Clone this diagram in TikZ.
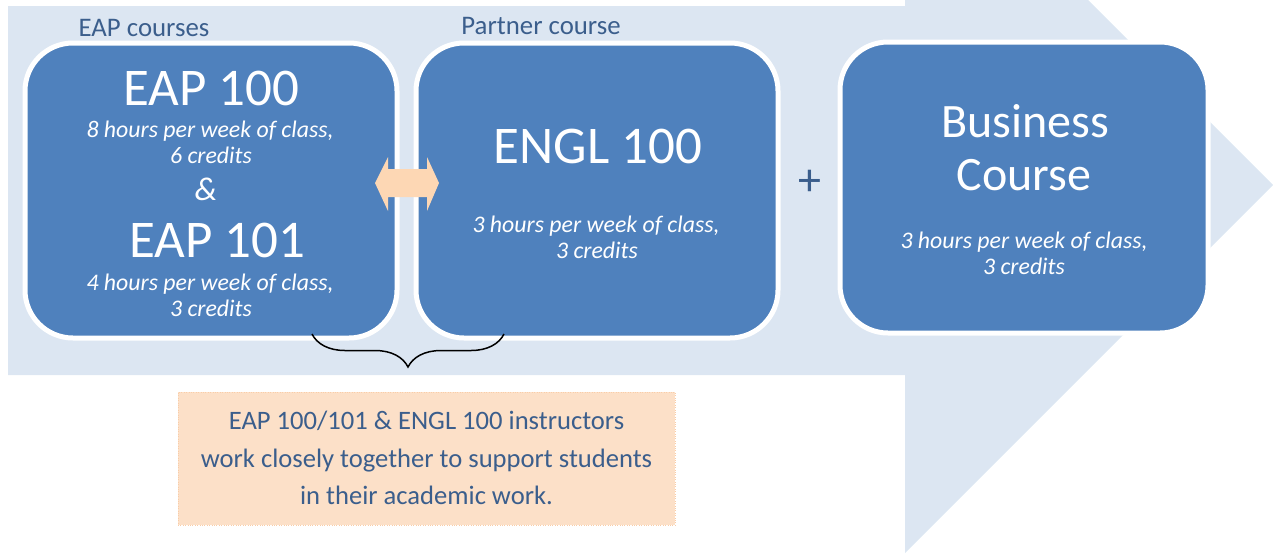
\documentclass[tikz,border=0pt]{standalone}
\usepackage{fontspec}
\setmainfont{Carlito}
\usetikzlibrary{decorations.pathreplacing}
\definecolor{bgblue}{RGB}{220,230,242}
\definecolor{boxblue}{RGB}{79,129,189}
\definecolor{labelblue}{RGB}{59,94,140}
\definecolor{peach}{RGB}{252,224,200}
\definecolor{peachline}{RGB}{249,205,168}
\definecolor{arrowpeach}{RGB}{253,215,180}
\tikzset{
  course/.style={draw=white, line width=5pt, fill=boxblue, rounded corners=48pt, inner sep=0pt},
  cname/.style={text=white, font=\fontsize{53}{53}\selectfont, inner sep=0pt, anchor=base},
  bname/.style={text=white, font=\fontsize{48}{48}\selectfont, inner sep=0pt, anchor=base},
  info/.style={text=white, font=\fontsize{23.8}{26}\selectfont\itshape, inner sep=0pt, anchor=base},
  grouplabel/.style={text=labelblue, font=\fontsize{26.8}{26.8}\selectfont, inner sep=0pt, anchor=base},
}
\begin{document}
\begin{tikzpicture}[x=1pt,y=-1pt]
\useasboundingbox (0,0) rectangle (1273,555);
\clip (0,0) rectangle (1273,555);
% big arrow
\fill[bgblue] (8,6) -- (905,6) -- (905,-183) -- (1273,185) -- (905,553) -- (905,375) -- (8,375) -- cycle;
% boxes
\node[course, minimum width=372pt, minimum height=295pt] (eap) at (211,190.5) {};
\node[course, minimum width=362pt, minimum height=295pt] (engl) at (597,190.5) {};
\node[course, minimum width=368pt, minimum height=291pt] (bus) at (1024,187.5) {};
% group labels
\node[grouplabel] (l1) at (144,36) {EAP courses};
\node[grouplabel] (l2) at (541,34) {Partner course};
% EAP texts
\node[cname] (t1) at (211,105) {EAP 100};
\node[info] (t1a) at (210,137) {8 hours per week of class,};
\node[info] (t1b) at (211,163) {6 credits};
\node[text=white, font=\fontsize{33}{33}\selectfont\itshape, inner sep=0pt, anchor=base] (amp) at (206,200) {\&};
\node[cname] (t2) at (217,257) {EAP 101};
\node[info] (t2a) at (210,290) {4 hours per week of class,};
\node[info] (t2b) at (211,316) {3 credits};
% ENGL texts
\node[cname] (t3) at (598,163) {ENGL 100};
\node[info] (t3a) at (596,232) {3 hours per week of class,};
\node[info] (t3b) at (597,258) {3 credits};
% Business texts
\node[bname] (t4) at (1025,137) {Business};
\node[bname] (t5) at (1024,190) {Course};
\node[info] (t4a) at (1024,248) {3 hours per week of class,};
\node[info] (t4b) at (1024,274) {3 credits};
% plus
\node[text=labelblue, font=\fontsize{46}{46}\selectfont, inner sep=0pt] (plus) at (810,183) {+};
% double arrow
\coordinate (da) at (407,183);
\fill[arrowpeach] ([xshift=-32pt]da) -- ++(13,-26) -- ++(0,12) -- ++(39,0) -- ++(0,-12) -- ++(12,26)
  -- ++(-12,28) -- ++(0,-14) -- ++(-39,0) -- ++(0,14) -- cycle;
% brace
\coordinate (bl) at (312,334);
\coordinate (br) at (504,334);
\draw[line width=1.5pt, decorate, decoration={brace, mirror, amplitude=33pt}] (bl) -- (br);
% bottom note
\node[fill=peach, draw=peachline, dotted, minimum width=497pt, minimum height=133pt, inner sep=0pt] (note) at (426.5,458.5) {};
\node[text=labelblue, font=\fontsize{26.6}{37.5}\selectfont, align=center, inner sep=0pt] (notetext) at (426.5,458) {EAP 100/101 \& ENGL 100 instructors\\work closely together to support students\\in their academic work.};
\end{tikzpicture}
\end{document}
